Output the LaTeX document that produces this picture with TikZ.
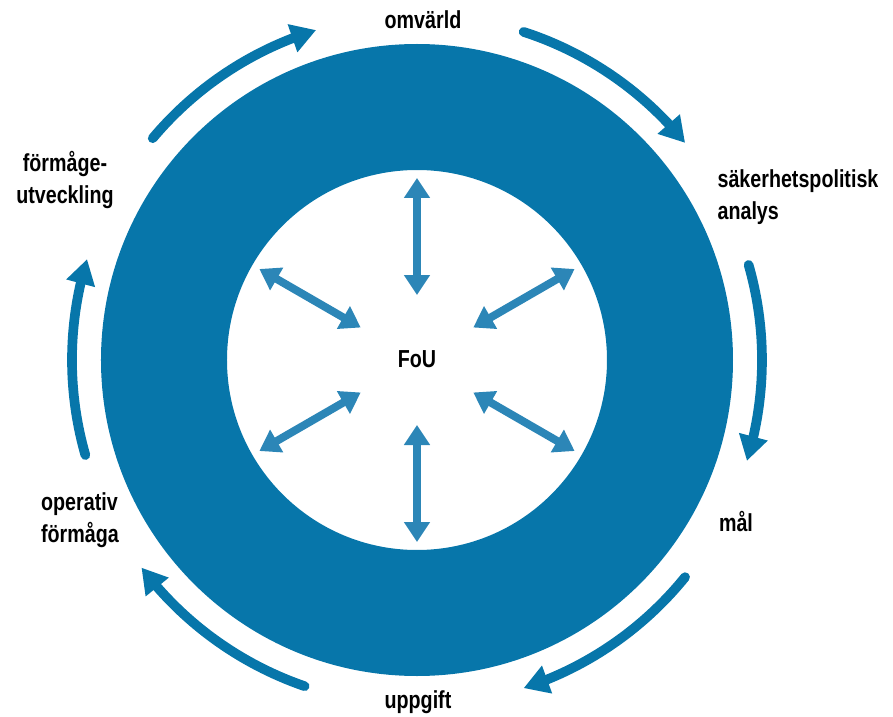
\documentclass[tikz,border=0pt]{standalone}
\usepackage{fontspec}
\usepackage{tikz}
\usetikzlibrary{arrows.meta, bending}
\newfontfamily\lblfont{Liberation Sans}[FakeStretch=0.8]
\definecolor{RingBlue}{RGB}{7, 118, 170}
\definecolor{FoUBlue}{RGB}{44, 134, 183}

\begin{document}
\begin{tikzpicture}[font=\lblfont\bfseries\fontsize{14}{18}\selectfont]
    \useasboundingbox (-8.34,-7.14) rectangle (9.52,7.2);
    \tikzset{
        cyclearrow/.style={line width=5.5pt, RingBlue, line cap=round, -{Triangle[length=5mm, width=5.6mm]}},
        fouarrow/.style={line width=4.5pt, FoUBlue, {Triangle[length=4mm, width=5mm]}-{Triangle[length=4mm, width=5mm]}}
    }

    % --- Ring ---
    \fill[RingBlue, even odd rule] (0,0) circle (6.32) circle (3.8);

    % --- Centre (FoU) ---
    \node (fou) at (0,0.02) {FoU};
    \foreach \a in {90, 30, -30, -90, -150, 150} {
        \coordinate (in\a) at (\a:1.3);
        \coordinate (out\a) at (\a:3.64);
        \draw[fouarrow] (in\a) -- (out\a);
    }

    % --- Cycle labels ---
    \node (omv) at (0.12,6.8) {omvärld};
    \node[align=left] (sak) at (7.62,3.26) {säkerhetspolitisk\\analys};
    \node (mal) at (6.38,-3.22) {mål};
    \node (upp) at (0.02,-6.84) {uppgift};
    \node[align=left] (ope) at (-6.74,-3.2) {operativ\\förmåga};
    \node[align=center] (utv) at (-7.04,3.6) {förmåge-\\utveckling};

    % --- Cycle arrows ---
    \foreach \s/\e in {140/107, 72/39, 16/-17, -39/-72, -109/-143, 196/163} {
        \draw[cyclearrow] (\s:6.9) arc[start angle=\s, end angle=\e, radius=6.9];
    }
\end{tikzpicture}
\end{document}
